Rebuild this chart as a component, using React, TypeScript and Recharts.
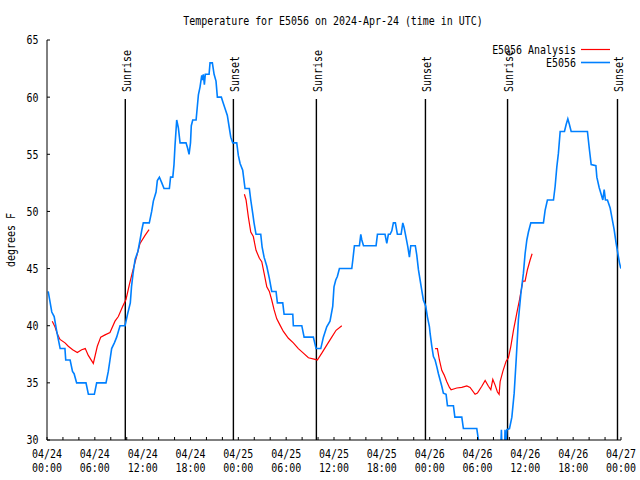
import React from 'react'
import { LineChart, Line, XAxis, YAxis, ReferenceLine, Legend } from 'recharts'

const FONT = '"DejaVu Sans Mono", monospace'
const BLUE = '#0080ff'
const RED = '#ff0000'

// [hours since 04/24 00:00 UTC, degrees F]
const stationObs: [number, number][] = [
  [0.15, 43], [0.6, 41.2], [0.9, 40.8], [1.2, 39.6], [1.45, 38.7], [1.65, 38], [2.25, 38], [2.35, 37],
  [2.9, 37], [3.2, 36], [3.4, 35.8], [3.72, 35], [4.89, 35], [5.19, 34], [5.94, 34], [6.23, 35],
  [7.4, 35], [7.69, 36], [7.9, 37], [8.11, 38], [8.45, 38.5], [8.74, 39], [9.16, 40], [9.79, 40],
  [10.1, 41], [10.45, 42], [10.6, 43.4], [10.8, 44.6], [11.05, 45.8], [11.4, 46.5], [11.67, 47.5],
  [11.9, 48.4], [12.08, 49], [12.83, 49], [13.13, 50], [13.34, 50.9], [13.68, 51.7], [13.84, 52.7],
  [14.1, 53], [14.4, 52.5], [14.68, 52], [15.35, 52], [15.5, 53], [15.78, 53], [15.93, 54.1],
  [16.06, 55.8], [16.27, 58], [16.48, 57.3], [16.69, 56], [17.44, 56], [17.65, 55.5], [17.82, 55],
  [18.0, 56], [18.1, 57.5], [18.28, 58], [18.7, 58], [18.86, 59.2], [18.99, 60.2], [19.2, 60.9],
  [19.41, 61.9], [19.49, 61.5], [19.61, 62], [19.74, 61.1], [19.86, 62], [20.33, 62], [20.45, 63],
  [20.74, 63], [20.96, 62], [21.2, 61.4], [21.37, 60], [21.87, 60], [22.05, 59.6], [22.33, 59],
  [22.62, 58.4], [22.87, 57.3], [23.05, 56.5], [23.3, 56], [23.8, 56], [24.0, 54.9], [24.22, 54.2],
  [24.55, 53.6], [24.84, 52], [25.38, 52], [25.56, 51], [25.81, 49.8], [25.97, 49], [26.22, 48],
  [26.81, 48], [26.98, 46.9], [27.23, 46], [27.57, 45.2], [27.89, 44.15], [28.19, 43], [28.73, 43],
  [28.9, 42], [29.57, 42], [29.74, 41], [30.83, 41], [30.9, 40], [31.96, 40], [32.25, 39], [33.41, 39],
  [33.75, 38], [34.34, 38], [34.67, 39], [35.09, 39.9], [35.5, 40.4], [35.84, 41.7], [36.0, 43.4],
  [36.22, 44], [36.42, 44.3], [36.68, 45], [38.23, 45], [38.36, 45.75], [38.56, 47], [39.19, 47],
  [39.36, 48], [39.49, 47.5], [39.7, 47], [41.28, 47], [41.45, 48], [42.4, 48], [42.62, 47.2],
  [42.82, 48], [43.04, 48], [43.25, 48.3], [43.45, 49], [43.7, 49], [43.95, 48], [44.42, 48],
  [44.63, 49], [44.79, 48.6], [45.04, 47.7], [45.26, 46.9], [45.46, 46], [45.63, 47], [46.2, 47],
  [46.38, 46.2], [46.59, 44.9], [46.8, 44], [47.01, 43.1], [47.21, 42.25], [47.51, 41.7], [47.71, 40.8],
  [47.97, 39.9], [48.06, 39.3], [48.27, 38.2], [48.47, 37.3], [48.68, 37], [48.9, 36.4], [49.1, 35.8],
  [49.31, 35.25], [49.52, 34.7], [49.72, 34.1], [50.06, 34], [50.23, 33], [50.98, 33], [51.16, 32],
  [52.03, 32], [52.23, 31], [53.91, 31], [54.12, 30], [54.4, 29], [56.9, 29], [57.0, 30.9], [57.08, 29],
  [57.4, 29], [57.45, 30.9], [57.55, 29.5], [57.68, 30.9], [58.01, 31], [58.31, 32], [58.6, 34.1],
  [58.85, 37], [59.13, 40.5], [59.44, 42.8], [59.76, 44.6], [59.97, 46.3], [60.19, 47.5], [60.39, 48.2],
  [60.69, 49], [62.27, 49], [62.48, 50.1], [62.77, 51], [63.53, 51], [63.74, 52.2], [63.95, 53.9],
  [64.15, 55.1], [64.37, 57], [64.91, 57], [65.12, 57.6], [65.33, 58.1], [65.53, 57.6], [65.75, 57],
  [67.79, 57], [68.04, 55.4], [68.26, 54.1], [68.85, 54], [68.97, 53], [69.26, 52.1], [69.51, 51.5],
  [69.72, 51], [69.89, 51.9], [70.05, 51], [70.3, 51], [70.64, 50.3], [70.85, 49.5], [71.14, 48.4],
  [71.39, 47.2], [71.56, 46.5], [71.81, 45.5], [71.98, 45],
]

// analysis runs (three separate pieces)
const analysisRun1: [number, number][] = [
  [0.66, 40.4], [1.0, 39.9], [1.29, 39.3], [1.63, 38.8], [2.26, 38.5], [2.67, 38.2], [3.22, 37.9],
  [3.8, 37.65], [4.35, 37.9], [4.8, 38.0], [5.18, 37.4], [5.81, 36.7], [6.31, 38.2], [6.74, 39.0],
  [7.28, 39.2], [7.9, 39.4], [8.53, 40.4], [8.95, 40.8], [9.5, 41.7], [9.91, 42.3], [10.33, 43.6],
  [10.83, 45.0], [11.33, 46.3], [11.67, 47.2], [12.3, 47.9], [12.8, 48.4],
]
const analysisRun2: [number, number][] = [
  [24.76, 51.5], [24.97, 51.0], [25.26, 49.5], [25.56, 48.2], [25.88, 47.8], [26.22, 46.6],
  [26.64, 45.9], [26.94, 45.6], [27.23, 44.6], [27.57, 43.4], [27.89, 43.0], [28.19, 42.25],
  [28.48, 41.4], [28.82, 40.6], [29.23, 40.05], [29.65, 39.5], [30.28, 38.9], [30.9, 38.5],
  [31.53, 38.0], [32.16, 37.6], [32.79, 37.2], [33.63, 37.06], [33.91, 37.0], [34.47, 37.6],
  [35.09, 38.3], [35.72, 39.0], [36.26, 39.6], [36.98, 40.0],
]
const analysisRun3: [number, number][] = [
  [48.68, 38.0], [48.97, 38.0], [49.22, 37.0], [49.52, 36.1], [49.81, 35.7], [50.15, 35.1],
  [50.48, 34.6], [50.69, 34.4], [51.4, 34.55], [52.03, 34.6], [52.66, 34.73], [53.07, 34.6],
  [53.7, 34.0], [53.99, 34.1], [54.54, 34.7], [54.96, 35.2], [55.37, 34.7], [55.67, 34.4],
  [55.92, 35.3], [56.21, 34.8], [56.5, 34.2], [56.71, 34.0], [56.84, 35.1], [57.18, 36.0],
  [57.59, 36.9], [57.88, 37.2], [58.18, 38.2], [58.51, 39.6], [58.93, 41.1], [59.26, 42.25],
  [59.69, 43.9], [59.97, 43.9], [60.26, 44.9], [60.6, 45.75], [60.85, 46.3],
]

const sunHours = [9.82, 23.38, 33.79, 47.47, 57.77, 71.56]
const sunNames = ['Sunrise', 'Sunset', 'Sunrise', 'Sunset', 'Sunrise', 'Sunset']

const xTicks = [0, 2, 4, 6, 8, 10, 12, 14, 16, 18, 20, 22, 24, 26, 28, 30, 32, 34, 36, 38, 40, 42, 44, 46, 48, 50, 52, 54, 56, 58, 60, 62, 64, 66, 68, 70, 72]
const xTickDates = ['04/24', '04/24', '04/24', '04/24', '04/25', '04/25', '04/25', '04/25', '04/26', '04/26', '04/26', '04/26', '04/27']
const xTickTimes = ['00:00', '06:00', '12:00', '18:00', '00:00', '06:00', '12:00', '18:00', '00:00', '06:00', '12:00', '18:00', '00:00']
const yTicks = [30, 35, 40, 45, 50, 55, 60, 65]

const toRows = (pts: [number, number][]) => pts.map(([h, t]) => ({ h, t }))
const obsRows = toRows(stationObs)
const analysisRows = [
  ...toRows(analysisRun1),
  { h: 18, t: null },
  ...toRows(analysisRun2),
  { h: 42, t: null },
  ...toRows(analysisRun3),
]

const MonoText = ({ x, y, anchor = 'middle', rotate = 0, children }: any) => (
  <text
    transform={`translate(${x},${y})${rotate ? ` rotate(${rotate})` : ''} scale(0.83,1)`}
    textAnchor={anchor}
    fontFamily={FONT}
    fontSize={12}
    fill="#000"
  >
    {children}
  </text>
)

const BottomTick = ({ x, y, payload }: any) => {
  if (payload.value % 6 !== 0) return <g />
  const i = payload.value / 6
  return (
    <g>
      <MonoText x={x} y={y + 18}>{xTickDates[i]}</MonoText>
      <MonoText x={x} y={y + 31.5}>{xTickTimes[i]}</MonoText>
    </g>
  )
}

const LeftTick = ({ x, y, payload }: any) => (
  <MonoText x={x} y={y + 4.4} anchor="end">{payload.value}</MonoText>
)

const NoTick = () => <g />

const sunLabel = (text: string) => (props: any) => {
  const vb = props.viewBox
  return <MonoText x={vb.x + 5.4} y={vb.y - 7} anchor="start" rotate={-90}>{text}</MonoText>
}

const LegendBox = () => (
  <svg width={640} height={80} style={{ display: 'block' }}>
    <MonoText x={576} y={54} anchor="end">E5056 Analysis</MonoText>
    <line x1={581} x2={610} y1={49.5} y2={49.5} stroke={RED} strokeWidth={1.2} />
    <MonoText x={576} y={67} anchor="end">E5056</MonoText>
    <line x1={581} x2={610} y1={62.5} y2={62.5} stroke={BLUE} strokeWidth={1.6} />
  </svg>
)

export default function App() {
  return (
    <div style={{ position: 'absolute', left: 0, top: 0, width: 640, height: 480, background: '#fff' }}>
      <LineChart width={640} height={480} margin={{ top: 40, right: 19, bottom: 0, left: 0 }}>
        <XAxis
          dataKey="h"
          type="number"
          domain={[0, 72]}
          ticks={xTicks}
          interval={0}
          allowDataOverflow
          height={40}
          tickSize={-3}
          tickMargin={3}
          stroke="#000"
          tick={BottomTick}
        />
        <XAxis
          xAxisId="top"
          orientation="top"
          type="number"
          domain={[0, 72]}
          ticks={xTicks}
          interval={0}
          height={0}
          tickSize={-3}
          stroke="#000"
          tick={NoTick}
        />
        <YAxis
          type="number"
          domain={[30, 65]}
          ticks={yTicks}
          interval={0}
          allowDataOverflow
          width={47}
          tickSize={-3}
          tickMargin={11.5}
          stroke="#000"
          tick={LeftTick}
        />
        <YAxis
          yAxisId="right"
          orientation="right"
          type="number"
          domain={[30, 65]}
          ticks={yTicks}
          interval={0}
          width={0}
          tickSize={-3}
          stroke="#000"
          tick={NoTick}
        />
        {sunHours.map((h, i) => (
          <ReferenceLine
            key={i}
            segment={[{ x: h, y: 30 }, { x: h, y: 59.84 }]}
            stroke="#000"
            strokeWidth={1.4}
            ifOverflow="visible"
            label={sunLabel(sunNames[i])}
          />
        ))}
        <Line
          data={analysisRows}
          dataKey="t"
          type="linear"
          stroke={RED}
          strokeWidth={1.2}
          dot={false}
          connectNulls={false}
          isAnimationActive={false}
        />
        <Line
          data={obsRows}
          dataKey="t"
          type="linear"
          stroke={BLUE}
          strokeWidth={1.6}
          dot={false}
          isAnimationActive={false}
        />
        <Legend
          layout="horizontal"
          verticalAlign="middle"
          align="center"
          wrapperStyle={{ left: 0, top: 0, width: 640, height: 80, pointerEvents: 'none' }}
          content={LegendBox}
        />
        <MonoText x={333} y={25}>Temperature for E5056 on 2024-Apr-24 (time in UTC)</MonoText>
        <MonoText x={15} y={240} rotate={-90}>degrees F</MonoText>
      </LineChart>
    </div>
  )
}
